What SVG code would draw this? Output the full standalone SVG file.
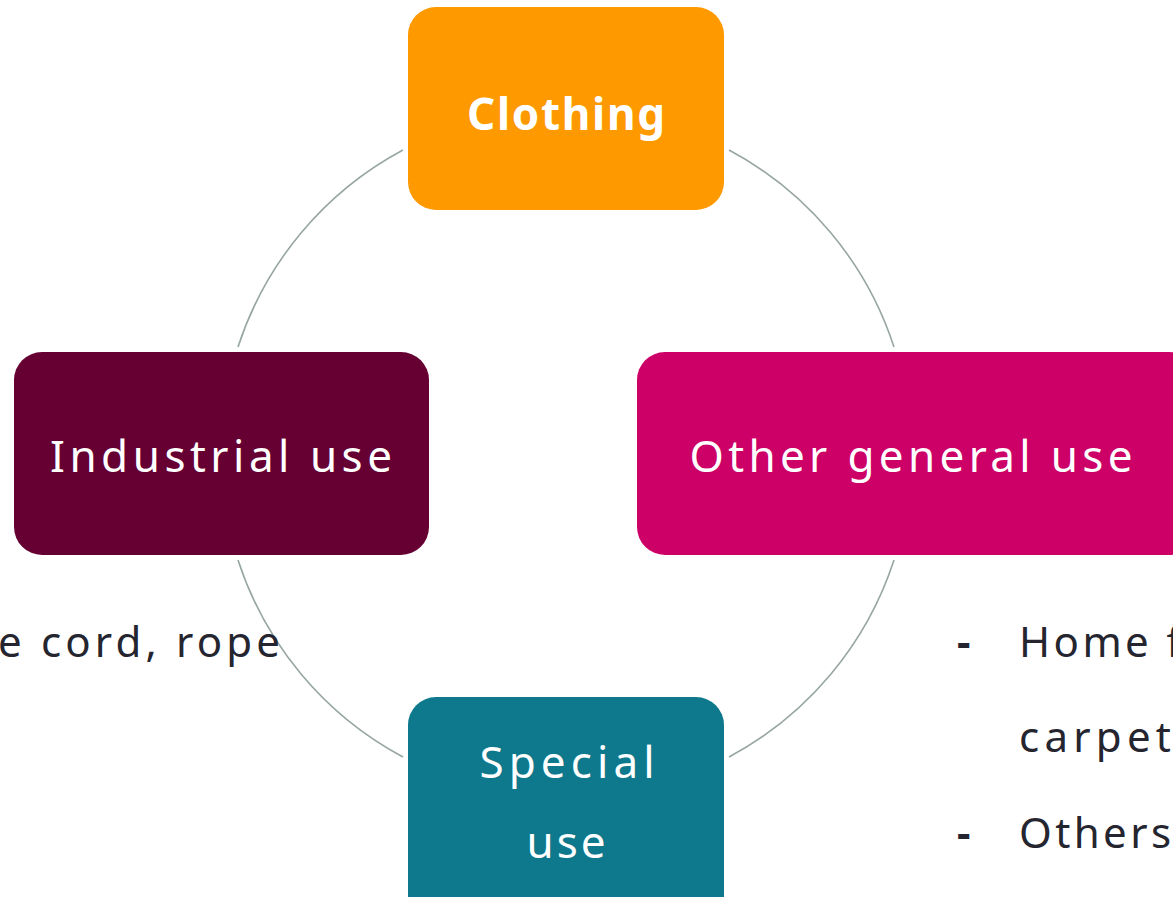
<svg xmlns="http://www.w3.org/2000/svg" width="1173" height="897" viewBox="0 0 1173 897">
<style>
.box{stroke:none}
.lbl{font-family:"Noto Sans","Liberation Sans",sans-serif;fill:#ffffff;font-size:44px;text-anchor:middle}
.side{font-family:"Noto Sans","Liberation Sans",sans-serif;fill:#25252f;font-size:42px}
.arc{fill:none;stroke:#97a6a0;stroke-width:1.6}
</style>
<rect width="1173" height="897" fill="#ffffff"/>
<g id="connectors">
<path class="arc" d="M403,150 A344,344 0 0 0 238,347"/>
<path class="arc" d="M729,150 A344,344 0 0 1 894,347"/>
<path class="arc" d="M238,560 A344,344 0 0 0 403,757"/>
<path class="arc" d="M894,560 A344,344 0 0 1 729,757"/>
</g>
<g id="clothing">
<rect class="box" x="408" y="7" width="316" height="203" rx="28" fill="#fe9900"/>
<text class="lbl" x="566" y="130" font-weight="bold" textLength="198" lengthAdjust="spacing">Clothing</text>
</g>
<g id="industrial">
<rect class="box" x="14" y="352" width="415" height="203" rx="28" fill="#660033"/>
<text class="lbl" x="221" y="472" textLength="342" lengthAdjust="spacing">Industrial use</text>
</g>
<g id="other">
<rect class="box" x="637" y="352" width="560" height="203" rx="28" fill="#cc0066"/>
<text class="lbl" x="911" y="472" textLength="443" lengthAdjust="spacing">Other general use</text>
</g>
<g id="special">
<rect class="box" x="408" y="697" width="316" height="230" rx="28" fill="#0e788c"/>
<text class="lbl" x="567" y="778" textLength="175" lengthAdjust="spacing">Special</text>
<text class="lbl" x="566" y="858" textLength="79" lengthAdjust="spacing">use</text>
</g>
<g id="notes">
<text class="side" x="280" y="657" text-anchor="end" textLength="282" lengthAdjust="spacing">e cord, rope</text>
<text class="side" x="957" y="657" font-weight="bold">-</text>
<text class="side" x="1019" y="657" textLength="162" lengthAdjust="spacing">Home f</text>
<text class="side" x="1019" y="752" textLength="152" lengthAdjust="spacing">carpet</text>
<text class="side" x="957" y="848" font-weight="bold">-</text>
<text class="side" x="1019" y="848" textLength="152" lengthAdjust="spacing">Others</text>
</g>
</svg>
